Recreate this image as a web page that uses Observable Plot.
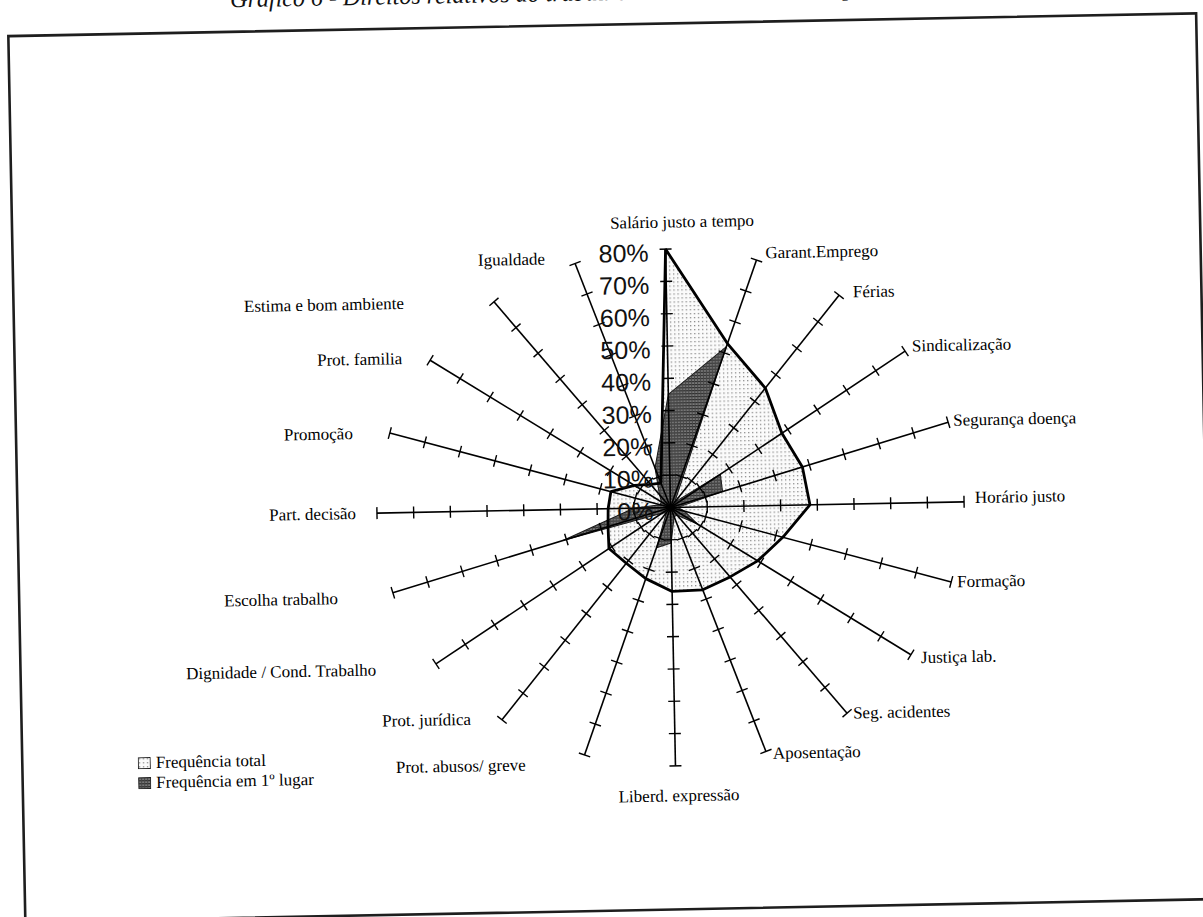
<!DOCTYPE html>
<html><head><meta charset="utf-8">
<script src="https://cdn.jsdelivr.net/npm/d3@7"></script>
<script src="https://cdn.jsdelivr.net/npm/@observablehq/plot@0.6"></script>
<style>
html,body{margin:0;padding:0;background:#fff;overflow:hidden;width:1203px;height:917px;}
#wrap{position:absolute;left:0;top:0;width:1215px;height:930px;transform:rotate(-1.1deg);transform-origin:670px 507px;}
#title{position:absolute;left:240px;top:-21px;font:italic 24px "Liberation Serif",serif;line-height:24px;white-space:nowrap;color:#111;}
.leg{position:absolute;left:133px;font:17px "Liberation Serif",serif;display:flex;align-items:center;gap:5px;white-space:nowrap;height:14px;color:#000}
.leg svg{display:block}
</style></head><body>
<svg width="0" height="0" style="position:absolute">
<defs>
<pattern id="dots" width="4" height="4" patternUnits="userSpaceOnUse"><rect width="4" height="4" fill="#fbfbfb"/><rect x="1" y="1" width="1.3" height="1.3" fill="#8a8a8a"/></pattern>
<pattern id="dark" width="3" height="3" patternUnits="userSpaceOnUse"><rect width="3" height="3" fill="#7a7a7a"/><rect width="3" height="1.2" fill="#2e2e2e"/><rect width="1" height="3" fill="#474747"/></pattern>
</defs></svg>
<div id="wrap">
<div id="chart"></div>
<div id="title">Gráfico 6 - Direitos relativos ao trabalho considerados mais importantes</div>
<div class="leg" style="top:746px"><svg width="13" height="12"><rect x="0.5" y="0.5" width="12" height="11" fill="url(#dots)" stroke="#222"/></svg><span>Frequência total</span></div>
<div class="leg" style="top:766px"><svg width="13" height="12"><rect x="0.5" y="0.5" width="12" height="11" fill="url(#dark)" stroke="#222"/></svg><span>Frequência em 1º lugar</span></div>
</div>
<script>
const categories = ["Salário justo a tempo","Garant.Emprego","Férias","Sindicalização","Segurança doença","Horário justo","Formação","Justiça lab.","Seg. acidentes","Aposentação","Liberd. expressão","Prot. abusos/ greve","Prot. jurídica","Dignidade / Cond. Trabalho","Escolha trabalho","Part. decisão","Promoção","Prot. familia","Estima e bom ambiente","Igualdade"];
const freqTotal = [80, 53, 45, 38, 38, 38, 32, 29, 27, 27, 26, 23, 21, 21, 18, 17, 17, 12, 9, 8];
const freqFirst = [35, 52, 2, 17, 15, 2, 4, 9, 3, 3, 11, 13, 2, 3, 31, 10, 3, 3, 5, 13];
const tickValues = [0, 10, 20, 30, 40, 50, 60, 70, 80];
const tickLabels = ["0%", "10%", "20%", "30%", "40%", "50%", "60%", "70%", "80%"];

// layout (not data)
const labelLayout = [
  ["middle", 17, -27], ["start", 9, -7], ["start", 14, -3], ["start", 7, -5], ["start", 5, -2],
  ["start", 11, -4], ["start", 6, 0], ["start", 10, 3], ["start", 6, 0], ["start", 7, 2],
  ["middle", 3, 30], ["end", -59, 9], ["end", -31, -1], ["end", -60, 5], ["end", -55, 5],
  ["end", -21, 0], ["end", -37, 0], ["end", -28, -2], ["end", -90, 0], ["end", -30, -5]
];
const cx = 670, cy = 507, sx = 3.67, sy = 3.23, W = 1215, H = 930;
const maxV = 80, tickHalf = 6;
const n = categories.length;
const ang = i => i * 2 * Math.PI / n;
const pol = (v, i) => ({x: v * Math.sin(ang(i)), y: v * Math.cos(ang(i))});

const totalPts = categories.map((c, i) => ({cat: c, ...pol(freqTotal[i], i)}));
const firstPts = categories.map((c, i) => ({cat: c, ...pol(freqFirst[i], i)}));
const axes = categories.map((c, i) => { const e = pol(maxV, i); return {x1: 0, y1: 0, x2: e.x, y2: e.y}; });
const ticks = [];
categories.forEach((c, i) => {
  const a = ang(i);
  const dx = sx * Math.sin(a), dy = -sy * Math.cos(a);
  const L = Math.hypot(dx, dy);
  const px = -dy / L, py = dx / L;
  const ox = px * tickHalf / sx, oy = -py * tickHalf / sy;
  tickValues.slice(1).forEach(v => {
    const b = pol(v, i);
    ticks.push({x1: b.x - ox, y1: b.y - oy, x2: b.x + ox, y2: b.y + oy});
  });
});
const labels = categories.map((c, i) => {
  const e = pol(maxV, i);
  const [anchor, ndx, ndy] = labelLayout[i];
  return {text: c, anchor, x: e.x + ndx / sx, y: e.y - ndy / sy};
});
const valueLabels = tickValues.map((v, i) => ({v, t: tickLabels[i]}));
const font = "Liberation Serif, Times New Roman, serif";

const chart = Plot.plot({
  width: W, height: H,
  marginLeft: 17, marginTop: 23, marginRight: W - 1205, marginBottom: H - 909,
  style: {maxWidth: "none", background: "transparent", overflow: "visible"},
  x: {domain: [-100, 100], range: [cx - 100 * sx, cx + 100 * sx], axis: null},
  y: {domain: [-100, 100], range: [cy + 100 * sy, cy - 100 * sy], axis: null},
  marks: [
    Plot.frame({stroke: "#1e1e1e", strokeWidth: 2.6}),
    Plot.line(totalPts, {x: "x", y: "y", curve: "linear-closed", fill: "url(#dots)", stroke: "none"}),
    Plot.line(firstPts, {x: "x", y: "y", curve: "linear-closed", fill: "url(#dark)", stroke: "#1a1a1a", strokeWidth: 1}),
    Plot.link(axes, {x1: "x1", y1: "y1", x2: "x2", y2: "y2", stroke: "#000", strokeWidth: 1.6}),
    Plot.link(ticks, {x1: "x1", y1: "y1", x2: "x2", y2: "y2", stroke: "#000", strokeWidth: 1.4}),
    Plot.line(totalPts, {x: "x", y: "y", curve: "linear-closed", fill: "none", stroke: "#000", strokeWidth: 2.8, strokeLinejoin: "miter"}),
    Plot.text(valueLabels, {x: 0, y: "v", text: "t", dx: -17, dy: 4, textAnchor: "end", fontSize: 25, fontFamily: "Liberation Sans, Arial, sans-serif", fill: "#111"}),
    ...["start", "middle", "end"].map(a => Plot.text(labels.filter(d => d.anchor === a), {x: "x", y: "y", text: "text", textAnchor: a, fontSize: 17, fontFamily: font, fill: "#000"}))
  ]
});
document.getElementById("chart").appendChild(chart);
</script>
</body></html>
